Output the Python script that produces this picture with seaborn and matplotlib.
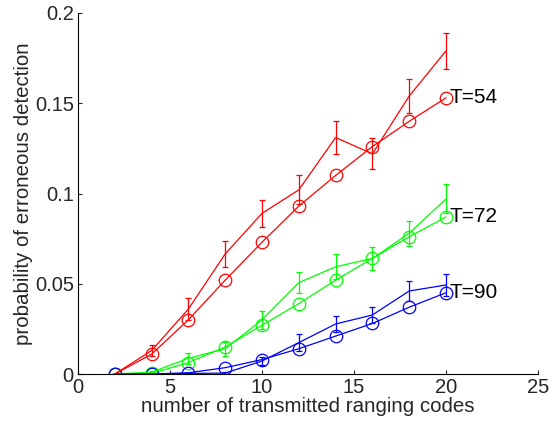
import numpy as np
import pandas as pd
import matplotlib
matplotlib.use("Agg")
import matplotlib.pyplot as plt
import seaborn as sns

x = [2, 4, 6, 8, 10, 12, 14, 16, 18, 20]

# analytical (circles)
ana_54 = [0, 0.011, 0.030, 0.052, 0.073, 0.093, 0.110, 0.126, 0.140, 0.153]
ana_72 = [0, 0.0003, 0.0063, 0.015, 0.027, 0.039, 0.052, 0.064, 0.076, 0.087]
ana_90 = [0, 0, 0.0007, 0.0035, 0.008, 0.014, 0.021, 0.028, 0.037, 0.045]

# simulation (error bars)
sim_54 = [0, 0.013, 0.036, 0.0665, 0.089, 0.102, 0.131, 0.122, 0.154, 0.179]
err_54 = [0, 0.003, 0.006, 0.007, 0.0075, 0.008, 0.009, 0.0085, 0.0095, 0.010]
sim_72 = [0, 0.001, 0.0087, 0.014, 0.030, 0.0506, 0.0594, 0.064, 0.078, 0.097]
err_72 = [0, 0.0008, 0.003, 0.004, 0.005, 0.0057, 0.007, 0.0065, 0.007, 0.008]
sim_90 = [0, 0, 0.0003, 0.0005, 0.0072, 0.0174, 0.0277, 0.0327, 0.046, 0.0493]
err_90 = [0, 0, 0.0003, 0.0005, 0.0023, 0.0045, 0.0045, 0.0046, 0.0055, 0.006]

labels = ["T=54", "T=72", "T=90"]
colors = ["#ff0000", "#00ff00", "#0000ff"]

sns.set_style("ticks")
plt.rcParams["font.family"] = ["Liberation Sans", "DejaVu Sans"]

fig = plt.figure(figsize=(5.55, 4.24), dpi=100)
ax = fig.add_axes([78 / 555, 50 / 424, 460 / 555, 361 / 424])

anas = [ana_54, ana_72, ana_90]
sims = [sim_54, sim_72, sim_90]
errs = [err_54, err_72, err_90]

for lab, col, a, s, e in zip(labels, colors, anas, sims, errs):
    df = pd.DataFrame({"x": x, "y": a})
    sns.lineplot(data=df, x="x", y="y", ax=ax, color=col, lw=0.9,
                 marker="o", markersize=9, markerfacecolor="none",
                 markeredgecolor=col, markeredgewidth=0.9)
    ax.errorbar(x, s, yerr=e, color=col, lw=0.9, elinewidth=0.9,
                capsize=2.5, capthick=0.9)
    ax.annotate(lab, xy=(x[-1], a[-1]), xytext=(2.5, 0),
                textcoords="offset points", ha="left", va="center",
                fontsize=15, color="black")

ax.set_xlim(0, 25)
ax.set_ylim(0, 0.2)
ax.set_xticks([0, 5, 10, 15, 20, 25])
ax.set_yticks([0, 0.05, 0.1, 0.15, 0.2])
ax.set_yticklabels(["0", "0.05", "0.1", "0.15", "0.2"])
ax.tick_params(direction="in", length=3, width=0.8, labelsize=14.5, pad=3)
for sp in ["top", "right"]:
    ax.spines[sp].set_visible(False)
for sp in ["left", "bottom"]:
    ax.spines[sp].set_linewidth(0.8)
    ax.spines[sp].set_color("black")

ax.set_xlabel("number of transmitted ranging codes", fontsize=14.8, labelpad=0)
ax.set_ylabel("probability of erroneous detection", fontsize=14.8, labelpad=1)

fig.savefig("out.png", dpi=100)
